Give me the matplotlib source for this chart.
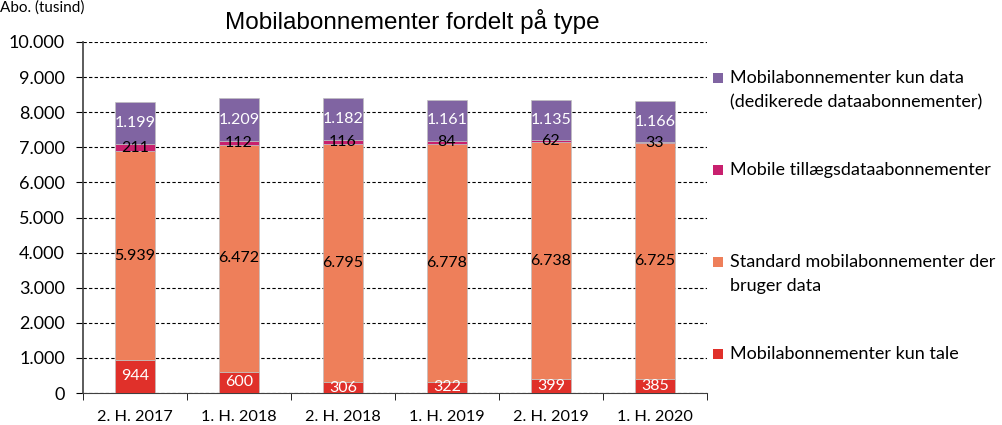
import matplotlib
matplotlib.use("Agg")
import matplotlib.pyplot as plt
from matplotlib.patches import Rectangle
import numpy as np

categories = ["2. H. 2017", "1. H. 2018", "2. H. 2018", "1. H. 2019", "2. H. 2019", "1. H. 2020"]
kun_tale = [944, 600, 306, 322, 399, 385]
standard = [5939, 6472, 6795, 6778, 6738, 6725]
tillaeg = [211, 112, 116, 84, 62, 33]
kun_data = [1199, 1209, 1182, 1161, 1135, 1166]

series_names = ["Mobilabonnementer kun tale",
                "Standard mobilabonnementer der\nbruger data",
                "Mobile tillægsdataabonnementer",
                "Mobilabonnementer kun data\n(dedikerede dataabonnementer)"]
series = [kun_tale, standard, tillaeg, kun_data]
colors = ["#E0302A", "#EE7F5A", "#C8206E", "#8064A2"]
label_colors = ["white", "black", "black", "white"]

def fmt(v):
    return f"{v:,}".replace(",", ".")

W, H = 1002, 425
fig = plt.figure(figsize=(W / 100, H / 100), dpi=100)
ax = fig.add_axes([83 / W, 1 - 393 / H, 624 / W, 351 / H])

x = np.arange(len(categories))
bottom = np.zeros(len(categories))
for vals, col, lc, name in zip(series, colors, label_colors, series_names):
    vals = np.array(vals, dtype=float)
    ax.bar(x, vals, bottom=bottom, width=0.39, color=col,
           edgecolor="#BFBFBF", linewidth=0.5, label=name, zorder=3)
    for xi, b, v in zip(x, bottom, vals):
        ax.text(xi, b + v / 2, fmt(int(v)), ha="center", va="center",
                color=lc, fontsize=11.5, family="Lato", zorder=4)
    bottom += vals

ax.set_xlim(-0.5, len(categories) - 0.5)
ax.set_ylim(0, 10000)
ax.set_yticks(np.arange(0, 10001, 1000))
ax.set_yticklabels([fmt(v) for v in range(0, 10001, 1000)], family="Lato", fontsize=13)
ax.set_xticks(x)
ax.set_xticklabels(categories, family="Lato", fontsize=11.7)
ax.set_xticks(np.arange(-0.5, len(categories), 1), minor=True)
ax.tick_params(axis="x", which="major", length=0, pad=12)
ax.tick_params(axis="x", which="minor", length=5, direction="out")
ax.tick_params(axis="y", length=5, direction="out", pad=8)
ax.yaxis.grid(True, linestyle=(0, (3, 2)), color="black", linewidth=0.8, zorder=0)
for s in ["top", "right"]:
    ax.spines[s].set_visible(False)
ax.spines["left"].set_color("#404040")
ax.spines["bottom"].set_color("#404040")
ax.spines["left"].set_linewidth(1.2)

fig.text(412 / W, 1 - 22 / H, "Mobilabonnementer fordelt på type", ha="center", va="center",
         family="Liberation Sans", fontsize=17.5)
fig.text(0.0, 1 - 8 / H, "Abo. (tusind)", ha="left", va="center",
         family="Lato", fontsize=11)

# legend (top to bottom: reverse stacking order)
for i, (name, col) in enumerate(zip(series_names[::-1], colors[::-1])):
    yc = 78 + 92 * i
    fig.patches.append(Rectangle((713 / W, 1 - (yc + 5) / H), 10 / W, 10 / H,
                                 facecolor=col, edgecolor="none",
                                 transform=fig.transFigure, figure=fig))
    for j, line in enumerate(name.split("\n")):
        fig.text(730 / W, 1 - (yc + 24 * j) / H, line, ha="left", va="center",
                 family="Lato", fontsize=13)

fig.savefig("out.png", dpi=100)
